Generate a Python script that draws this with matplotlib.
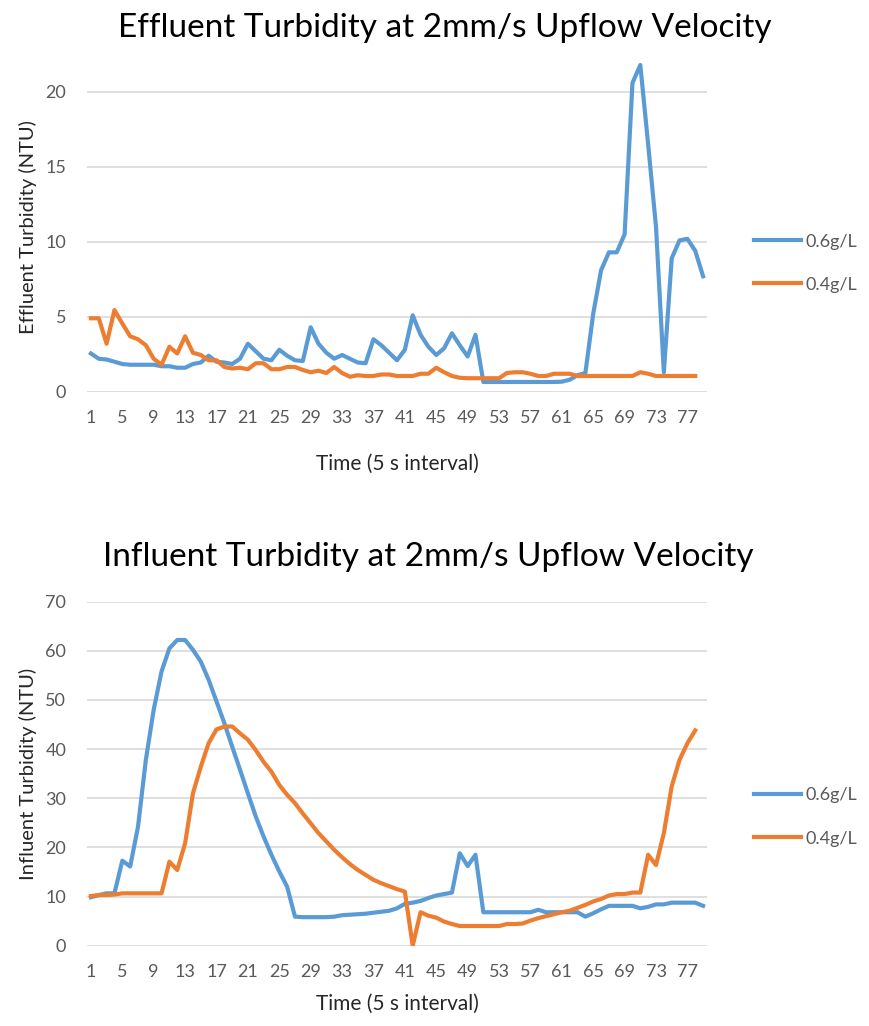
import numpy as np
import matplotlib.pyplot as plt

plt.rcParams['font.family'] = ['Lato', 'DejaVu Sans']

# effluent turbidity (NTU)
eff_06 = [2.55, 2.2, 2.15, 2.0, 1.85, 1.8, 1.8, 1.8, 1.8, 1.7,
          1.7, 1.6, 1.6, 1.85, 1.95, 2.4, 2.0, 1.95, 1.85, 2.2,
          3.2, 2.7, 2.2, 2.1, 2.8, 2.4, 2.1, 2.05, 4.3, 3.2,
          2.6, 2.2, 2.45, 2.2, 1.95, 1.9, 3.5, 3.1, 2.6, 2.1,
          2.8, 5.1, 3.8, 3.0, 2.45, 2.9, 3.9, 3.1, 2.35, 3.8,
          0.65, 0.65, 0.65, 0.65, 0.65, 0.65, 0.65, 0.65, 0.65, 0.65,
          0.67, 0.8, 1.1, 1.25, 5.2, 8.1, 9.3, 9.3, 10.5, 20.6,
          21.8, 16.5, 11.0, 1.3, 8.9, 10.1, 10.2, 9.4, 7.7]
eff_04 = [4.9, 4.9, 3.2, 5.45, 4.55, 3.7, 3.5, 3.1, 2.2, 1.8,
          3.0, 2.55, 3.7, 2.6, 2.45, 2.1, 2.1, 1.65, 1.55, 1.6,
          1.5, 1.9, 1.9, 1.5, 1.5, 1.65, 1.65, 1.45, 1.3, 1.4,
          1.25, 1.65, 1.25, 1.0, 1.1, 1.05, 1.05, 1.15, 1.15, 1.05,
          1.05, 1.05, 1.2, 1.2, 1.6, 1.3, 1.05, 0.93, 0.9, 0.9,
          0.9, 0.9, 0.9, 1.25, 1.3, 1.3, 1.2, 1.05, 1.05, 1.2,
          1.2, 1.2, 1.05, 1.05, 1.05, 1.05, 1.05, 1.05, 1.05, 1.05,
          1.3, 1.2, 1.05, 1.05, 1.05, 1.05, 1.05, 1.05]

# influent turbidity (NTU)
inf_06 = [9.85, 10.3, 10.65, 10.65, 17.3, 16.1, 24.2, 37.8, 48.0, 55.8,
          60.5, 62.2, 62.2, 60.2, 57.8, 54.1, 49.7, 45.3, 40.5, 35.8,
          31.0, 26.3, 22.2, 18.5, 15.1, 12.0, 5.9, 5.8, 5.8, 5.8,
          5.8, 5.9, 6.2, 6.3, 6.4, 6.5, 6.7, 6.9, 7.1, 7.6,
          8.5, 8.75, 9.1, 9.7, 10.2, 10.5, 10.8, 18.8, 16.2, 18.5,
          6.8, 6.8, 6.8, 6.8, 6.8, 6.8, 6.8, 7.3, 6.8, 6.8,
          6.8, 6.8, 6.8, 5.9, 6.6, 7.4, 8.1, 8.1, 8.1, 8.1,
          7.6, 7.9, 8.4, 8.4, 8.75, 8.75, 8.75, 8.75, 8.1]
inf_04 = [10.1, 10.3, 10.3, 10.4, 10.65, 10.65, 10.65, 10.65, 10.65, 10.65,
          17.1, 15.4, 20.8, 31.0, 36.4, 41.2, 44.0, 44.6, 44.6, 43.2,
          41.9, 39.8, 37.4, 35.4, 32.7, 30.7, 29.0, 26.9, 24.9, 22.9,
          21.2, 19.5, 18.0, 16.6, 15.4, 14.4, 13.4, 12.7, 12.1, 11.5,
          11.0, 0.0, 6.8, 6.1, 5.7, 4.9, 4.4, 4.0, 4.0, 4.0,
          4.0, 4.0, 4.0, 4.4, 4.4, 4.5, 5.1, 5.6, 6.0, 6.4,
          6.8, 7.1, 7.7, 8.3, 9.0, 9.5, 10.2, 10.5, 10.5, 10.8,
          10.8, 18.5, 16.4, 22.9, 32.4, 37.8, 41.2, 43.8]

labels = ['0.6g/L', '0.4g/L']
blue = '#5B9BD5'
orange = '#ED7D31'
tick_pos = np.arange(1, 80, 4)

fig = plt.figure(figsize=(8.69, 10.26), dpi=100)
ax1 = fig.add_axes([0.1001, 0.6182, 0.7135, 0.3214])
ax2 = fig.add_axes([0.1001, 0.0783, 0.7135, 0.3353])


def style(ax, ymax, yticks):
    ax.set_xlim(0.5, 79.5)
    ax.set_ylim(0, ymax)
    ax.set_yticks(yticks)
    ax.set_xticks(tick_pos)
    ax.grid(axis='y', color='#D9D9D9', lw=1.2)
    ax.set_axisbelow(True)
    for s in ax.spines.values():
        s.set_visible(False)
    ax.tick_params(length=0, labelsize=13, labelcolor='#595959')
    ax.tick_params(axis='y', pad=15)
    ax.tick_params(axis='x', pad=13)


def legend(ax, y):
    ax.legend(loc='center left', bbox_to_anchor=(1.062, y), frameon=False,
              fontsize=13, handlelength=2.6, handletextpad=0.2, labelspacing=1.5,
              labelcolor='#595959', borderpad=0)


ax1.plot(np.arange(1, len(eff_06) + 1), eff_06, color=blue, lw=3, label=labels[0])
ax1.plot(np.arange(1, len(eff_04) + 1), eff_04, color=orange, lw=3, label=labels[1])
style(ax1, 22, [0, 5, 10, 15, 20])
ax1.set_title('Effluent Turbidity at 2mm/s Upflow Velocity', fontsize=24, pad=18, x=0.577)
ax1.set_xlabel('Time (5 s interval)', fontsize=15, labelpad=20, color='#262626')
ax1.set_ylabel('Effluent Turbidity (NTU)', fontsize=14.5, labelpad=6, color='#262626')
legend(ax1, 0.39)

ax2.plot(np.arange(1, len(inf_06) + 1), inf_06, color=blue, lw=3, label=labels[0])
ax2.plot(np.arange(1, len(inf_04) + 1), inf_04, color=orange, lw=3, label=labels[1])
style(ax2, 70, np.arange(0, 71, 10))
ax2.set_title('Influent Turbidity at 2mm/s Upflow Velocity', fontsize=24, pad=26, x=0.55)
ax2.set_xlabel('Time (5 s interval)', fontsize=15, labelpad=10, color='#262626')
ax2.set_ylabel('Influent Turbidity (NTU)', fontsize=14.5, labelpad=6, color='#262626')
legend(ax2, 0.374)

fig.savefig('out.png', dpi=100)
